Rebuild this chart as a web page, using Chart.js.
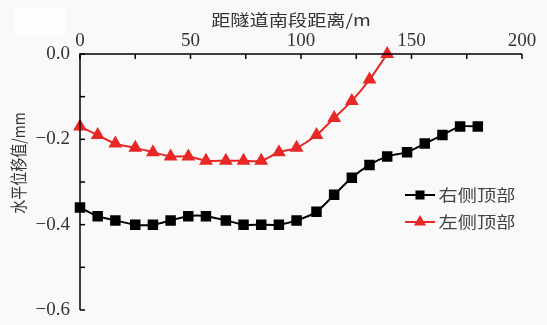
<!DOCTYPE html>
<html>
<head>
<meta charset="utf-8">
<script src="https://cdn.jsdelivr.net/npm/chart.js@4/dist/chart.umd.min.js"></script>
<style>
  html, body { margin: 0; padding: 0; background: #f9f9f9; }
  #wrap { width: 547px; height: 325px; }
</style>
</head>
<body>
<div id="wrap"><canvas id="line"></canvas></div>
<script>
// distance from tunnel south section (m)
const distRight = [0, 8, 16, 25, 33, 41, 49, 57, 66, 74, 82, 90, 98, 107, 115, 123, 131, 139, 148, 156, 164, 172, 180];
const distLeft = [0, 8, 16, 25, 33, 41, 49, 57, 66, 74, 82, 90, 98, 107, 115, 123, 131, 139];
// horizontal displacement (mm)
const rightTop = [-0.36, -0.38, -0.39, -0.40, -0.40, -0.39, -0.38, -0.38, -0.39, -0.40, -0.40, -0.40, -0.39, -0.37, -0.33, -0.29, -0.26, -0.24, -0.23, -0.21, -0.19, -0.17, -0.17];
const leftTop = [-0.17, -0.19, -0.21, -0.22, -0.23, -0.24, -0.24, -0.25, -0.25, -0.25, -0.25, -0.23, -0.22, -0.19, -0.15, -0.11, -0.06, 0.0];
const seriesNames = ['右侧顶部', '左侧顶部'];
const xTickLabels = [0, 50, 100, 150, 200];
const yTickLabels = [0, -0.2, -0.4, -0.6];
const xTitle = '距隧道南段距离/m';
const yTitle = '水平位移值/mm';

const serif = '"Liberation Serif", "DejaVu Serif", serif';
const cjk = '"Noto Sans CJK SC", sans-serif';

function pts(xs, ys) {
    return xs.map((x, i) => ({ x: x, y: ys[i] }));
}

// text in the source is a bit wider than tall
function wideText(c, text, x, y, size, rot) {
    c.save();
    c.translate(x, y);
    c.scale(1.2, 1);
    if (rot) c.rotate(-Math.PI / 2);
    c.font = size + 'px ' + cjk;
    c.textAlign = 'center';
    c.textBaseline = 'middle';
    c.fillText(text, 0, 0);
    c.restore();
}

const backdrop = {
    id: 'backdrop',
    beforeDraw(chart) {
        const c = chart.ctx;
        c.save();
        c.fillStyle = '#f9f9f9';
        c.fillRect(0, 0, chart.width, chart.height);
        c.fillStyle = '#fdfdfd';
        c.fillRect(14, 7, 52, 28);
        c.restore();
    }
};

// ticks pointing into the plot, axis lines on top and left only
const innerTicks = {
    id: 'innerTicks',
    afterDraw(chart) {
        const c = chart.ctx;
        const area = chart.chartArea;
        const xs = chart.scales.x, ys = chart.scales.y;
        c.save();
        c.strokeStyle = '#000';
        c.lineWidth = 1.5;
        for (let v = 0; v <= 200; v += 25) {
            const px = xs.getPixelForValue(v);
            c.beginPath();
            c.moveTo(px, area.top);
            c.lineTo(px, area.top + 5);
            c.stroke();
        }
        for (let k = 0; k <= 6; k++) {
            const py = ys.getPixelForValue(-k / 10);
            c.beginPath();
            c.moveTo(area.left, py);
            c.lineTo(area.left + 5, py);
            c.stroke();
        }
        c.beginPath();
        c.moveTo(area.left, area.bottom);
        c.lineTo(area.left, area.top);
        c.lineTo(xs.getPixelForValue(200), area.top);
        c.stroke();
        c.fillStyle = '#333';
        wideText(c, xTitle, 291, 20, 16, false);
        wideText(c, yTitle, 19, 163, 14, true);
        c.restore();
    }
};

// legend drawn as line + marker
const lineLegend = {
    id: 'lineLegend',
    afterDraw(chart) {
        const c = chart.ctx;
        c.save();
        chart.data.datasets.forEach((ds, i) => {
            const y = 195 + i * 27;
            const x0 = 405;
            c.strokeStyle = ds.borderColor;
            c.lineWidth = 2;
            c.beginPath();
            c.moveTo(x0, y);
            c.lineTo(x0 + 30, y);
            c.stroke();
            c.fillStyle = ds.backgroundColor;
            Chart.helpers.drawPoint(c, {
                pointStyle: ds.pointStyle,
                radius: 5,
                borderWidth: 1
            }, x0 + 15, y);
            c.fillStyle = '#444';
            wideText(c, ds.label, x0 + 72, y, 16, false);
        });
        c.restore();
    }
};

document.addEventListener('DOMContentLoaded', () => {
    const ctx = document.getElementById('line');
    new Chart(ctx, {
        type: 'line',
        data: {
            datasets: [{
                label: seriesNames[0],
                data: pts(distRight, rightTop),
                borderColor: '#000000',
                backgroundColor: '#000000',
                borderWidth: 2,
                pointStyle: 'rect',
                pointRadius: 6,
                pointHoverRadius: 6,
                tension: 0.25
            }, {
                label: seriesNames[1],
                data: pts(distLeft, leftTop),
                borderColor: '#e82727',
                backgroundColor: '#e82727',
                borderWidth: 2,
                pointStyle: 'triangle',
                pointRadius: 6,
                pointHoverRadius: 6,
                tension: 0.3
            }]
        },
        options: {
            responsive: true,
            maintainAspectRatio: false,
            animation: false,
            clip: false,
            layout: { padding: { left: 8, top: 0, right: 25, bottom: 15 } },
            plugins: {
                legend: { display: false },
                tooltip: { enabled: false }
            },
            scales: {
                x: {
                    type: 'linear',
                    position: 'top',
                    min: 0,
                    max: 200,
                    border: { display: false },
                    grid: { display: false, drawTicks: false },
                    afterBuildTicks: s => { s.ticks = xTickLabels.map(v => ({ value: v })); },
                    afterFit: s => { s.height = 54; s.paddingLeft = 0; s.paddingRight = 0; },
                    ticks: {
                        color: '#333',
                        font: { family: serif, size: 19 },
                        padding: 2,
                        maxRotation: 0
                    }
                },
                y: {
                    min: -0.6,
                    max: 0,
                    border: { display: false },
                    grid: { display: false, drawTicks: false },
                    afterBuildTicks: s => { s.ticks = yTickLabels.map(v => ({ value: v })); },
                    afterFit: s => { s.width = 72; s.paddingTop = 0; s.paddingBottom = 0; },
                    ticks: {
                        color: '#333',
                        font: { family: serif, size: 19 },
                        padding: 10,
                        callback: v => (v === 0 ? '0.0' : '\u2212' + Math.abs(v).toFixed(1))
                    }
                }
            }
        },
        plugins: [backdrop, innerTicks, lineLegend]
    });
});
</script>
</body>
</html>
